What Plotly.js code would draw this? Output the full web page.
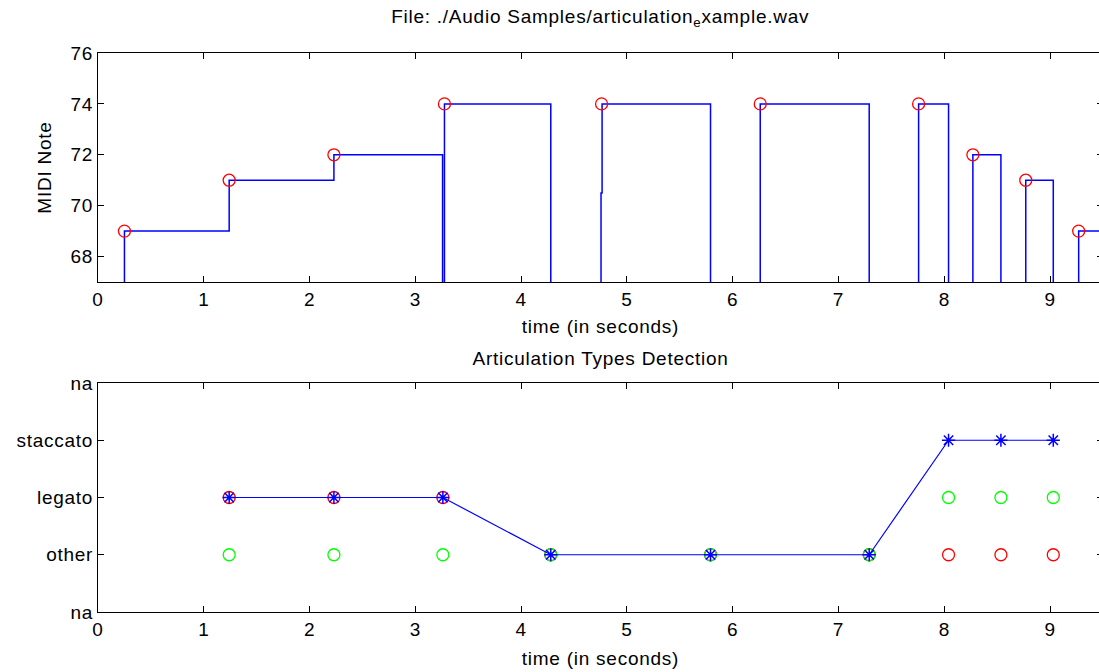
<!DOCTYPE html>
<html>
<head>
<meta charset="utf-8">
<script src="https://cdn.plot.ly/plotly-3.0.1.min.js"></script>
<style>
html,body{margin:0;padding:0;overflow:hidden;background:#fff}
#chart text{letter-spacing:0.75px}
</style>
</head>
<body>
<div id="chart" style="width:1110px;height:672px"></div>
<script>
// ---- data ----
const onsetTimes   = [0.25, 1.24, 2.23, 3.275, 4.76, 6.26, 7.757, 8.27, 8.77, 9.27];
const onsetPitches = [69, 71, 72, 74, 74, 74, 74, 72, 71, 69];
// pitch track (0 = silence, drawn off-axis)
const trackTimes   = [0, 0.25, 1.24, 2.23, 3.257, 3.275, 4.28, 4.755, 4.765, 5.79, 6.26, 7.29, 7.757, 8.04, 8.27, 8.535, 8.77, 9.03, 9.27, 9.8];
const trackPitches = [0, 69, 71, 72, 0, 74, 0, 70.5, 74, 0, 74, 0, 74, 0, 72, 0, 71, 0, 69, 69];
// articulation detection
const offsetTimes   = [1.24, 2.23, 3.26, 4.28, 5.79, 7.29, 8.04, 8.535, 9.03];
const detected      = [2, 2, 2, 1, 1, 1, 3, 3, 3];
const redMarks      = [2, 2, 2, 1, 1, 1, 1, 1, 1];
const greenMarks    = [1, 1, 1, 1, 1, 1, 2, 2, 2];
const timeTicks     = [0, 1, 2, 3, 4, 5, 6, 7, 8, 9];
const midiTicks     = [68, 70, 72, 74, 76];
const articTickVals = [0, 1, 2, 3, 4];
const articTickText = ['na', 'other', 'legato', 'staccato', 'na'];

const H = 672;
const FONT = {family: 'Liberation Sans, Arial, sans-serif', size: 19, color: '#000'};

const axisBase = {
  showline: true, linecolor: '#000', linewidth: 1, mirror: 'ticks',
  ticks: 'inside', ticklen: 6, tickcolor: '#000', tickwidth: 1,
  showgrid: false, zeroline: false, fixedrange: true, tickfont: FONT
};

const traces = [
  {x: trackTimes, y: trackPitches, xaxis: 'x', yaxis: 'y', mode: 'lines',
   line: {color: '#0000ff', width: 1.5, shape: 'hv'}, hoverinfo: 'skip'},
  {x: onsetTimes, y: onsetPitches, xaxis: 'x', yaxis: 'y', mode: 'markers',
   marker: {symbol: 'circle-open', size: 12, color: '#ff0000', line: {width: 1.3, color: '#ff0000'}}},
  {x: offsetTimes, y: redMarks, xaxis: 'x2', yaxis: 'y2', mode: 'markers',
   marker: {symbol: 'circle-open', size: 12, color: '#ff0000', line: {width: 1.3, color: '#ff0000'}}},
  {x: offsetTimes, y: greenMarks, xaxis: 'x2', yaxis: 'y2', mode: 'markers',
   marker: {symbol: 'circle-open', size: 12, color: '#00ff00', line: {width: 1.3, color: '#00ff00'}}},
  {x: offsetTimes, y: detected, xaxis: 'x2', yaxis: 'y2', mode: 'lines+markers',
   line: {color: '#0000ff', width: 1.2},
   marker: {symbol: 'asterisk-open', size: 11, color: '#0000ff', line: {width: 1.5, color: '#0000ff'}}}
];

const layout = {
  width: 1110, height: H,
  margin: {l: 98, r: 7.4, t: 0, b: 0},
  paper_bgcolor: '#fff', plot_bgcolor: '#fff',
  font: FONT, showlegend: false,
  xaxis: Object.assign({}, axisBase, {
    domain: [0, 1], range: [0, 9.5], tickvals: timeTicks,
    anchor: 'y', title: {text: 'time (in seconds)', font: FONT, standoff: 10}
  }),
  yaxis: Object.assign({}, axisBase, {
    domain: [1 - 282/H, 1 - 53/H], range: [67, 76], tickvals: midiTicks,
    anchor: 'x', title: {text: 'MIDI Note', font: FONT, standoff: 15}
  }),
  xaxis2: Object.assign({}, axisBase, {
    domain: [0, 1], range: [0, 9.5], tickvals: timeTicks,
    anchor: 'y2', title: {text: 'time (in seconds)', font: FONT, standoff: 12}
  }),
  yaxis2: Object.assign({}, axisBase, {
    domain: [1 - 612/H, 1 - 383/H], range: [0, 4],
    tickvals: articTickVals, ticktext: articTickText, anchor: 'x2'
  }),
  annotations: [
    {text: 'File: ./Audio Samples/articulation<sub>e</sub>xample.wav', xref: 'paper', yref: 'paper',
     x: 0.5, y: 1 - 18/H, yanchor: 'middle', showarrow: false, font: FONT},
    {text: 'Articulation Types Detection', xref: 'paper', yref: 'paper',
     x: 0.5, y: 1 - 358/H, yanchor: 'middle', showarrow: false, font: FONT}
  ]
};

Plotly.newPlot('chart', traces, layout, {displayModeBar: false, staticPlot: true});
</script>
</body>
</html>
